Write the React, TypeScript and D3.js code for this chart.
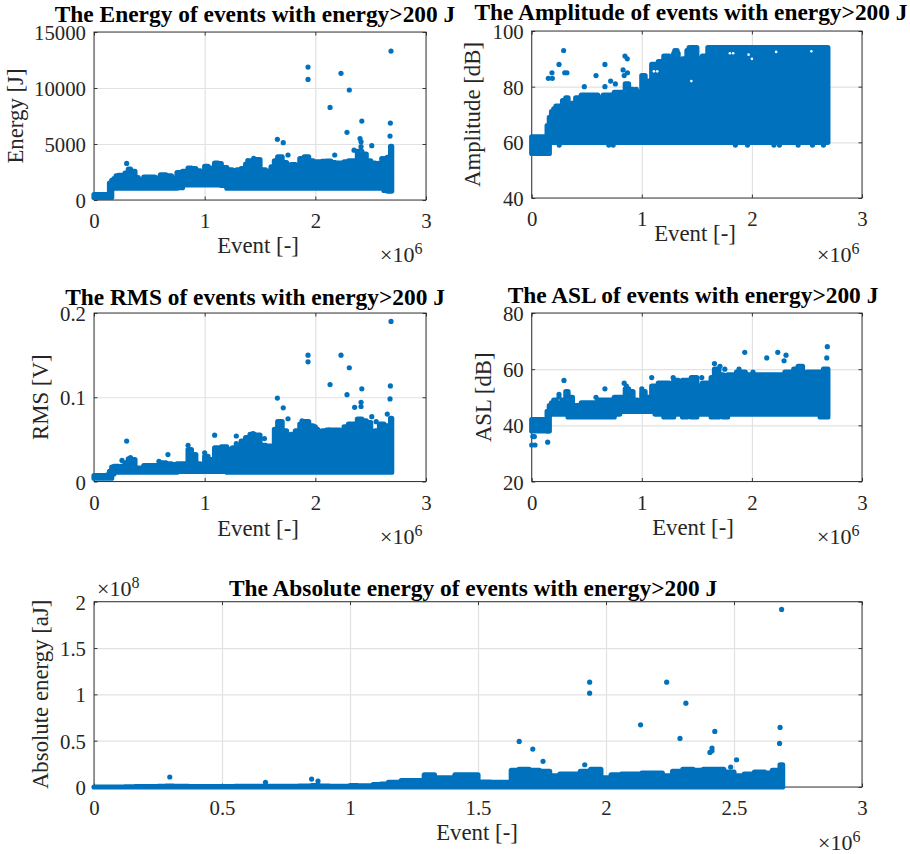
import React, { useEffect, useRef } from "react";
import * as d3 from "d3";

const eventGrid = [
  0, 0.12, 0.14, 0.16, 0.18, 0.2, 0.22, 0.25, 0.28, 0.31,
  0.33, 0.37, 0.4, 0.45, 0.5, 0.55, 0.6, 0.65, 0.7, 0.75,
  0.8, 0.85, 0.88, 0.92, 0.96, 1, 1.03, 1.06, 1.09, 1.12,
  1.15, 1.2, 1.25, 1.29, 1.33, 1.37, 1.41, 1.45, 1.5, 1.55,
  1.6, 1.63, 1.66, 1.7, 1.74, 1.78, 1.82, 1.86, 1.9, 1.94,
  1.98, 2.02, 2.06, 2.1, 2.14, 2.18, 2.22, 2.26, 2.3, 2.34,
  2.38, 2.42, 2.46, 2.5, 2.54, 2.58, 2.62, 2.65, 2.68, 2.69,
];

const energyHigh = [
  480, 480, 1500, 1750, 1900, 2150, 2200, 1950, 2400, 2750,
  2550, 2000, 1800, 2050, 2050, 1950, 2250, 2150, 1950, 2450,
  2550, 2850, 2800, 2600, 2550, 3000, 2850, 2750, 3300, 3250,
  2900, 2700, 2600, 2700, 2800, 3200, 3500, 3600, 2700, 2550,
  2950, 3500, 3850, 3350, 2950, 3150, 2900, 3700, 3850, 3500,
  3400, 3400, 3450, 3480, 3350, 3300, 3300, 3400, 3500, 3500,
  4350, 4100, 3500, 3300, 3250, 3300, 3700, 3800, 4800, 3000,
];
const energyLow = [
  230, 230, 230, 1050, 1050, 1050, 1050, 1050, 1050, 1050,
  1050, 1050, 1050, 1050, 1050, 1050, 1050, 1050, 1050, 1100,
  1350, 1350, 1350, 1350, 1350, 1350, 1350, 1350, 1350, 1350,
  1300, 1050, 1050, 1050, 1050, 1050, 1050, 1050, 1050, 1050,
  1050, 1050, 1050, 1050, 1050, 1050, 1050, 1050, 1050, 1050,
  1050, 1050, 1050, 1050, 1050, 1050, 1050, 1050, 1050, 1050,
  1050, 1050, 1050, 1050, 1050, 1050, 850, 800, 800, 1000,
];
const energyOutX = [0.295, 1.934, 1.934, 2.232, 2.307, 2.133, 2.42, 2.678, 2.286, 2.675, 1.657, 1.71, 1.753, 2.175, 2.51, 2.404, 2.413, 2.413, 2.6, 2.684, 1.443, 1.39, 2.35, 2.385];
const energyOutY = [3270, 11870, 10770, 11310, 9820, 8270, 7050, 6870, 6040, 5710, 5420, 5120, 4020, 4020, 4850, 5480, 5200, 4760, 3690, 13300, 3720, 3510, 4450, 4230];

const amplitudeHigh = [
  62, 62, 66, 69, 71, 72, 73, 73, 75, 76,
  74, 74, 76, 77, 77, 77, 76, 77, 77, 78,
  78, 81, 79, 77, 78, 84, 82, 82, 88, 86,
  89, 91, 90, 92, 88, 90, 93, 94, 90, 91,
  94, 94, 94, 94, 94, 94, 94, 94, 94, 94,
  94, 94, 94, 94, 94, 94, 94, 94, 94, 94,
  94, 94, 94, 94, 94, 94, 94, 94, 94, 94,
];
const amplitudeLow = [
  56, 56, 56, 60, 60, 60, 60, 60, 60, 60,
  60, 60, 60, 60, 60, 60, 60, 60, 60, 60,
  60, 60, 60, 60, 60, 60, 60, 60, 60, 60,
  60, 60, 60, 60, 60, 60, 60, 60, 60, 60,
  60, 60, 60, 60, 60, 60, 60, 60, 60, 60,
  60, 60, 60, 60, 60, 60, 60, 60, 60, 60,
  60, 60, 60, 60, 60, 60, 60, 60, 60, 60,
];
const amplitudeOutX = [0.29, 0.248, 0.184, 0.151, 0.187, 0.32, 0.3, 0.665, 0.584, 0.478, 0.665, 0.717, 0.76, 0.847, 0.868, 0.83, 0.84, 0.87, 0.95, 0.25, 0.7, 0.74, 1.3, 1.32, 1.43, 1.45, 1.85, 1.96, 2.2, 2.25, 2.42, 2.55, 2.65];
const amplitudeOutY = [93, 88, 85, 83, 83, 85, 85, 88, 84, 80, 80, 82, 81, 91, 90, 86, 84, 85, 79, 59, 59, 59, 93, 93, 94, 94, 59, 59, 59, 59, 59, 59, 59];
// small white specks left inside the cloud
const amplitudeGapX = [1.11, 1.14, 1.8, 1.83, 1.97, 2.22, 2.54, 1.45, 2.0];
const amplitudeGapY = [85.5, 85.5, 92, 92, 91.5, 92.5, 92.7, 82, 90];

const rmsHigh = [
  0.007, 0.008, 0.012, 0.017, 0.018, 0.018, 0.016, 0.018, 0.022, 0.027,
  0.026, 0.016, 0.016, 0.019, 0.019, 0.019, 0.022, 0.021, 0.02, 0.021,
  0.021, 0.038, 0.032, 0.021, 0.02, 0.03, 0.025, 0.026, 0.04, 0.038,
  0.041, 0.038, 0.04, 0.042, 0.048, 0.052, 0.056, 0.055, 0.043, 0.042,
  0.04, 0.062, 0.071, 0.06, 0.046, 0.056, 0.06, 0.068, 0.071, 0.066,
  0.062, 0.056, 0.06, 0.061, 0.061, 0.061, 0.06, 0.065, 0.068, 0.068,
  0.074, 0.072, 0.07, 0.059, 0.06, 0.068, 0.066, 0.066, 0.075, 0.06,
];
const rmsLow = [
  0.004, 0.004, 0.004, 0.009, 0.011, 0.011, 0.011, 0.011, 0.011, 0.011,
  0.011, 0.011, 0.011, 0.011, 0.011, 0.011, 0.011, 0.011, 0.011, 0.012,
  0.012, 0.012, 0.012, 0.012, 0.012, 0.012, 0.012, 0.012, 0.012, 0.012,
  0.012, 0.011, 0.011, 0.011, 0.011, 0.011, 0.011, 0.011, 0.011, 0.011,
  0.011, 0.011, 0.011, 0.011, 0.011, 0.011, 0.011, 0.011, 0.011, 0.011,
  0.011, 0.011, 0.011, 0.011, 0.011, 0.011, 0.011, 0.011, 0.011, 0.011,
  0.011, 0.011, 0.011, 0.011, 0.011, 0.011, 0.011, 0.011, 0.011, 0.011,
];
const rmsOutX = [0.295, 0.253, 0.33, 0.668, 0.587, 0.85, 0.876, 1.09, 1.0, 1.286, 1.286, 1.54, 1.437, 1.657, 1.71, 1.753, 1.934, 1.934, 2.232, 2.307, 2.133, 2.286, 2.42, 2.355, 2.413, 2.413, 2.51, 2.48, 2.65, 2.678, 2.675, 2.684, 2.0, 1.88, 2.124, 2.55];
const rmsOutY = [0.048, 0.025, 0.0285, 0.032, 0.024, 0.043, 0.037, 0.055, 0.034, 0.054, 0.045, 0.051, 0.057, 0.099, 0.0875, 0.0745, 0.15, 0.142, 0.15, 0.135, 0.115, 0.103, 0.11, 0.088, 0.094, 0.089, 0.077, 0.0665, 0.08, 0.1135, 0.098, 0.19, 0.065, 0.072, 0.061, 0.071];

const aslHigh = [
  42, 42, 45, 47, 48, 49, 48, 47, 49, 52,
  50, 47, 47, 48, 48, 48, 49, 49, 49, 50,
  50, 53, 52, 49, 48, 52, 50, 50, 54, 54,
  55, 55, 54, 56, 54, 56, 56, 57, 54, 55,
  55, 57, 60, 58, 57, 58, 58, 59, 59, 58,
  58, 58, 58, 58, 58, 58, 58, 58, 59, 59,
  60, 61, 58, 59, 59, 59, 59, 60, 60, 57,
];
const aslLow = [
  38, 38, 38, 44, 44, 44, 44, 44, 44, 44,
  43, 43, 43, 43, 43, 43, 43, 43, 43, 44,
  45, 45, 45, 45, 45, 45, 45, 45, 45, 44,
  44, 43, 43, 44, 44, 43, 44, 43, 44, 44,
  44, 43, 43, 44, 43, 44, 44, 44, 44, 44,
  44, 44, 44, 44, 44, 44, 44, 44, 44, 44,
  44, 44, 44, 44, 44, 44, 43, 43, 43, 44,
];
const aslOutX = [0.293, 1.935, 2.135, 2.235, 2.292, 2.31, 2.685, 2.68, 1.66, 1.71, 1.754, 1.883, 2.01, 0.665, 0.584, 1.09, 1.285, 1.545, 0.248, 0.248, 0, 0.03, 0.024, 0.01, 0.145, 0.145, 0.84, 0.86, 1.0];
const aslOutY = [56, 66, 64, 66, 63, 65, 68, 64, 62, 61, 60, 60, 59, 53, 50, 57, 57, 57, 51, 50, 33, 33, 36, 36, 38, 34, 55, 54, 53];

const absHigh = [
  0, 0.002, 0.002, 0.003, 0.004, 0.004, 0.005, 0.006, 0.01, 0.008,
  0.006, 0.005, 0.005, 0.005, 0.005, 0.006, 0.008, 0.008, 0.006, 0.008,
  0.01, 0.015, 0.01, 0.006, 0.008, 0.015, 0.012, 0.013, 0.025, 0.03,
  0.05, 0.07, 0.07, 0.13, 0.1, 0.1, 0.13, 0.13, 0.054, 0.05,
  0.05, 0.18, 0.19, 0.18, 0.17, 0.12, 0.14, 0.14, 0.17, 0.19,
  0.1, 0.13, 0.14, 0.14, 0.15, 0.15, 0.12, 0.17, 0.19, 0.18,
  0.19, 0.19, 0.16, 0.12, 0.14, 0.16, 0.15, 0.18, 0.24, 0.12,
];
const absLow = eventGrid.map(() => 0);
const absOutX = [2.686, 1.936, 1.936, 2.237, 2.312, 2.135, 2.289, 2.425, 2.68, 2.678, 1.661, 1.714, 1.754, 2.406, 2.414, 2.414, 2.51, 2.487, 0.296, 0.85, 0.875, 0.67, 1.917];
const absOutY = [1.917, 1.131, 1.013, 1.131, 0.905, 0.671, 0.524, 0.6, 0.643, 0.47, 0.492, 0.409, 0.276, 0.373, 0.39, 0.42, 0.294, 0.215, 0.108, 0.085, 0.065, 0.05, 0.24];

const smallXTicks = [0, 1, 2, 3];
const wideXTicks = [0, 0.5, 1, 1.5, 2, 2.5, 3];

const panels = [
  { title: "The Energy of events with energy>200 J", yLabel: "Energy [J]", domain: [0, 15000], yTicks: [0, 5000, 10000, 15000], xTicks: smallXTicks,
    high: energyHigh, low: energyLow, outX: energyOutX, outY: energyOutY,
    box: [94, 32, 426, 200], titleAt: [255, 22], xLabelAt: [258, 253], yLabelX: 23, exp: [380, 262, "6"] },
  { title: "The Amplitude of events with energy>200 J", yLabel: "Amplitude [dB]", domain: [40, 100], yTicks: [40, 60, 80, 100], xTicks: smallXTicks,
    high: amplitudeHigh, low: amplitudeLow, outX: amplitudeOutX, outY: amplitudeOutY, gapX: amplitudeGapX, gapY: amplitudeGapY,
    box: [531.7, 31, 862, 198], titleAt: [691, 20], xLabelAt: [695, 241], yLabelX: 480, exp: [817, 262, "6"] },
  { title: "The RMS of events with energy>200 J", yLabel: "RMS [V]", domain: [0, 0.2], yTicks: [0, 0.1, 0.2], xTicks: smallXTicks,
    high: rmsHigh, low: rmsLow, outX: rmsOutX, outY: rmsOutY,
    box: [94, 313, 426, 481.5], titleAt: [255, 305], xLabelAt: [258, 536], yLabelX: 48, exp: [380, 544, "6"] },
  { title: "The ASL of events with energy>200 J", yLabel: "ASL [dB]", domain: [20, 80], yTicks: [20, 40, 60, 80], xTicks: smallXTicks,
    high: aslHigh, low: aslLow, outX: aslOutX, outY: aslOutY,
    box: [531.7, 313, 862, 481.5], titleAt: [693, 303], xLabelAt: [693, 535], yLabelX: 491, exp: [817, 544, "6"] },
  { title: "The Absolute energy of events with energy>200 J", yLabel: "Absolute energy [aJ]", domain: [0, 2], yTicks: [0, 0.5, 1, 1.5, 2], xTicks: wideXTicks,
    high: absHigh, low: absLow, outX: absOutX, outY: absOutY,
    box: [94, 601.7, 862, 787], titleAt: [473, 596], xLabelAt: [477, 840], yLabelX: 48, exp: [818, 850, "6"], topExp: [97, 596, "8"] },
];

const ink = "#262626";
const dotColor = "#0072BD";
const serif = "'Liberation Serif', 'Times New Roman', serif";
const dotR = 2.6;

const drawExp = (svg: any, at: any[]) => {
  const t = svg.append("text").attr("x", at[0]).attr("y", at[1])
    .attr("font-size", 22).attr("fill", ink).text("\u00d710");
  t.append("tspan").attr("dy", -8).attr("font-size", 16).text(at[2]);
};

export default function App() {
  const svgRef = useRef<SVGSVGElement>(null);

  useEffect(() => {
    const svg = d3.select(svgRef.current);
    svg.selectAll("*").remove();

    panels.forEach((p: any) => {
      const [x0, y0, x1, y1] = p.box;
      const x = d3.scaleLinear().domain([0, 3]).range([x0, x1]);
      const y = d3.scaleLinear().domain(p.domain).range([y1, y0]);
      const g = svg.append("g").attr("font-family", serif);

      // grid
      const gridX = g.append("g").attr("transform", `translate(0,${y1})`)
        .call(d3.axisBottom(x).tickValues(p.xTicks).tickSize(y0 - y1).tickFormat(() => ""));
      const gridY = g.append("g").attr("transform", `translate(${x0},0)`)
        .call(d3.axisLeft(y).tickValues(p.yTicks).tickSize(x0 - x1).tickFormat(() => ""));
      [gridX, gridY].forEach((a) => {
        a.select(".domain").remove();
        a.selectAll("line").attr("stroke", "#e2e2e2").attr("stroke-width", 1.2);
      });

      // box with inward ticks on all four sides
      g.append("rect").attr("x", x0).attr("y", y0).attr("width", x1 - x0).attr("height", y1 - y0)
        .attr("fill", "none").attr("stroke", ink).attr("stroke-width", 0.9);
      const axes = [
        g.append("g").attr("transform", `translate(0,${y1})`)
          .call(d3.axisBottom(x).tickValues(p.xTicks).tickSize(-3.5).tickPadding(13.5).tickFormat(d3.format("~g") as any)),
        g.append("g").attr("transform", `translate(${x0},0)`)
          .call(d3.axisLeft(y).tickValues(p.yTicks).tickSize(-3.5).tickPadding(8).tickFormat(d3.format("~g") as any)),
        g.append("g").attr("transform", `translate(0,${y0})`)
          .call(d3.axisTop(x).tickValues(p.xTicks).tickSize(-3.5).tickFormat(() => "")),
        g.append("g").attr("transform", `translate(${x1},0)`)
          .call(d3.axisRight(y).tickValues(p.yTicks).tickSize(-3.5).tickFormat(() => "")),
      ];
      axes.forEach((a) => {
        a.select(".domain").remove();
        a.attr("font-family", serif).attr("font-size", 20.8);
        a.selectAll("line").attr("stroke", ink).attr("stroke-width", 0.9);
        a.selectAll("text").attr("fill", ink);
      });
      axes[1].selectAll("text").attr("dy", "0.36em");

      // dense cloud: filled between the edges, stroke is one marker wide so the edge looks dotted
      const cloud = d3.area<number>()
        .curve(d3.curveStepAfter)
        .x((i) => x(eventGrid[i]))
        .y0((i) => y(p.low[i]))
        .y1((i) => y(p.high[i]));
      g.append("path").attr("d", cloud(d3.range(eventGrid.length)))
        .attr("fill", dotColor).attr("stroke", dotColor)
        .attr("stroke-width", dotR * 2).attr("stroke-linejoin", "round");

      // isolated events
      g.append("g").selectAll("circle").data(p.outX).join("circle")
        .attr("cx", (d: any) => x(d))
        .attr("cy", (_: any, i: number) => y(p.outY[i]))
        .attr("r", dotR).attr("fill", dotColor);
      if (p.gapX) {
        g.append("g").selectAll("circle").data(p.gapX).join("circle")
          .attr("cx", (d: any) => x(d))
          .attr("cy", (_: any, i: number) => y(p.gapY[i]))
          .attr("r", 1.3).attr("fill", "#fff");
      }

      // labels
      g.append("text").attr("x", p.titleAt[0]).attr("y", p.titleAt[1])
        .attr("text-anchor", "middle").attr("font-size", 23.4).attr("font-weight", "bold").attr("fill", "#000")
        .text(p.title);
      g.append("text").attr("x", p.xLabelAt[0]).attr("y", p.xLabelAt[1])
        .attr("text-anchor", "middle").attr("font-size", 22.8).attr("fill", ink).text("Event [-]");
      g.append("text")
        .attr("transform", `translate(${p.yLabelX},${(y0 + y1) / 2}) rotate(-90)`)
        .attr("text-anchor", "middle").attr("font-size", 22.8).attr("fill", ink).text(p.yLabel);
      drawExp(g, p.exp);
      if (p.topExp) drawExp(g, p.topExp);
    });
  }, []);

  return (
    <svg ref={svgRef} width={910} height={854}
      style={{ position: "absolute", left: 0, top: 0, background: "#fff" }} />
  );
}
